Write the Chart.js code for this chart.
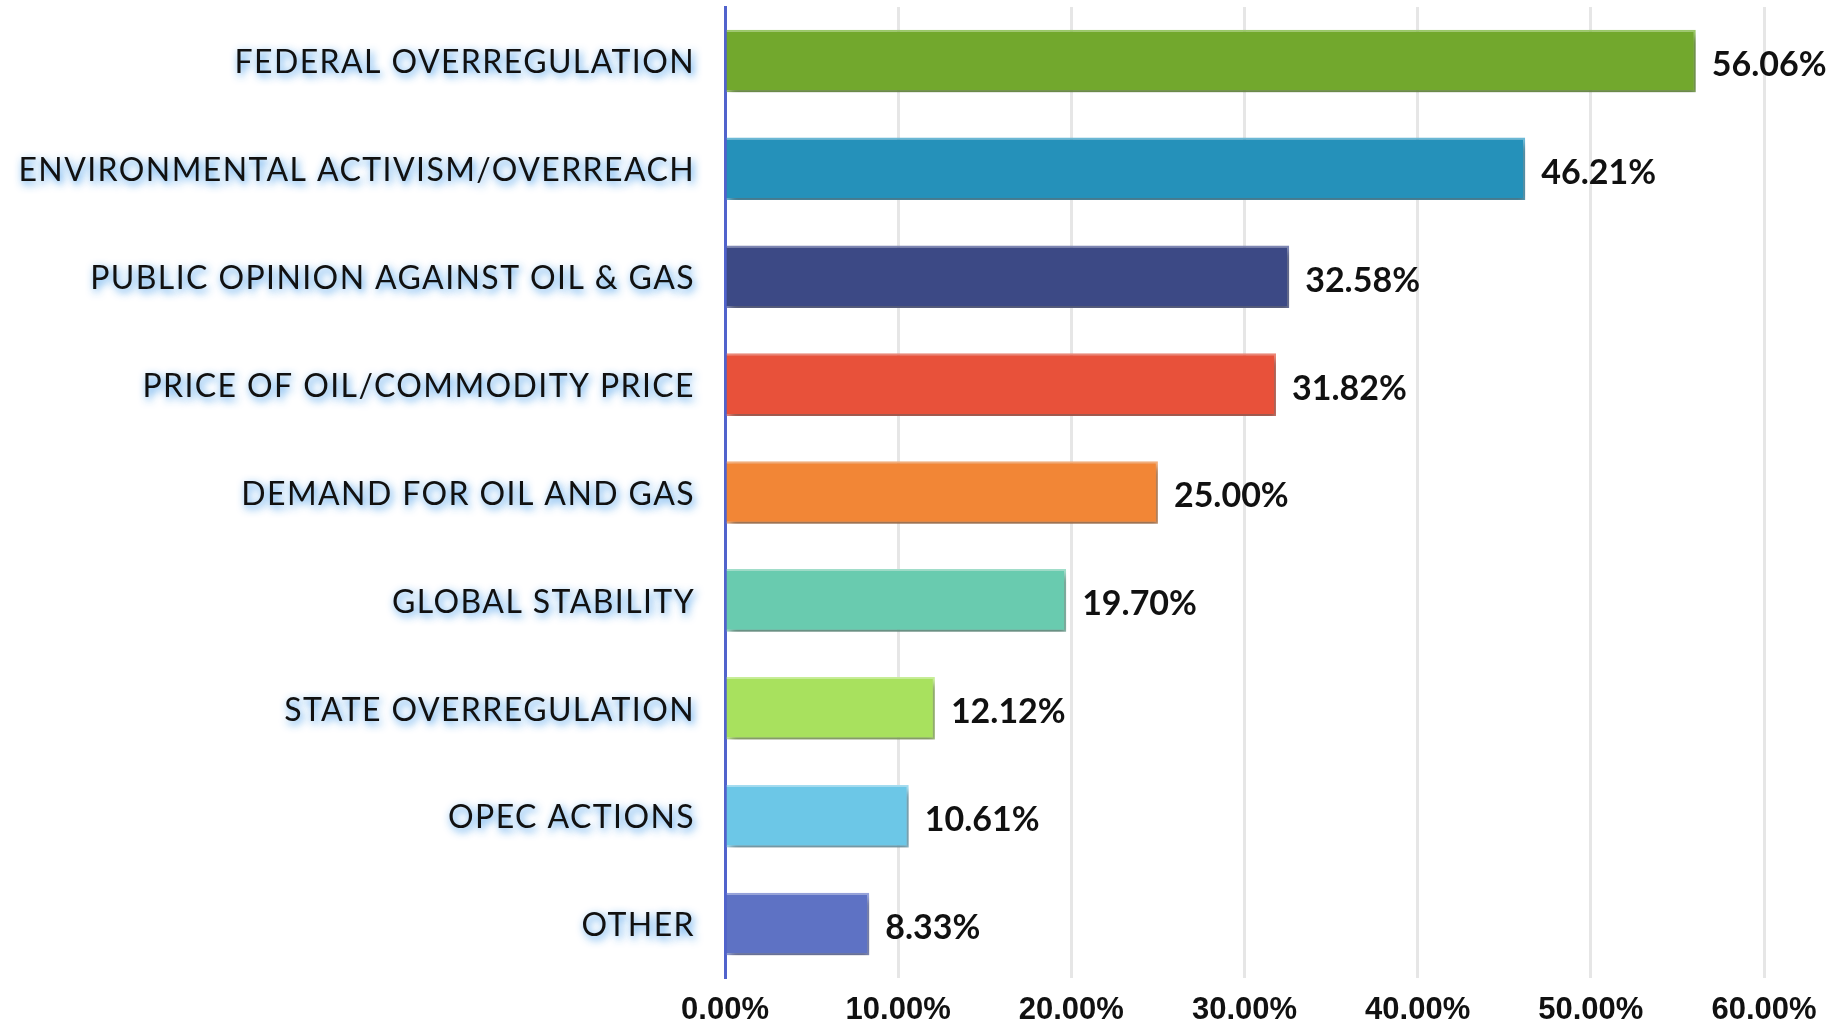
<!DOCTYPE html>
<html>
<head>
<meta charset="utf-8">
<script src="https://cdn.jsdelivr.net/npm/chart.js@4.4.1/dist/chart.umd.min.js"></script>
<style>
  html, body { margin: 0; padding: 0; background: #fff; }
  #wrap { width: 1833px; height: 1027px; position: relative; }
</style>
</head>
<body>
<div id="wrap"><canvas id="chart"></canvas></div>
<script>
// --- data ---
const categories = [
  'FEDERAL OVERREGULATION',
  'ENVIRONMENTAL ACTIVISM/OVERREACH',
  'PUBLIC OPINION AGAINST OIL & GAS',
  'PRICE OF OIL/COMMODITY PRICE',
  'DEMAND FOR OIL AND GAS',
  'GLOBAL STABILITY',
  'STATE OVERREGULATION',
  'OPEC ACTIONS',
  'OTHER'
];
const shares = [56.06, 46.21, 32.58, 31.82, 25.00, 19.70, 12.12, 10.61, 8.33];
const barColors = ['#72a82d', '#2591ba', '#3c4985', '#e8513a', '#f28636', '#69cbaf', '#a8e15e', '#6cc7e7', '#5e72c4'];
const edgeColors = ['#9cc96a', '#6bbad8', '#7f88b5', '#f08a7a', '#f7b27e', '#a3e0cc', '#c9ef99', '#a6def2', '#97a3dc'];
const xTicks = [0, 10, 20, 30, 40, 50, 60];

// glow on category labels + drop shadow under bars + value labels
const effects = {
  id: 'effects',
  beforeDraw(chart) {
    const s = chart.scales.y;
    if (!s._glow) {
      const orig = s.drawLabels.bind(s);
      s.drawLabels = function (area) {
        const ctx = this.ctx;
        ctx.save();
        ctx.translate(0, 2);
        ctx.letterSpacing = '1.4px';
        ctx.shadowColor = 'rgba(30,135,230,0.9)';
        ctx.shadowBlur = 8;
        ctx.shadowOffsetX = 2;
        ctx.shadowOffsetY = 3;
        orig(area);
        ctx.restore();
      };
      s._glow = true;
    }
  },
  beforeDatasetsDraw(chart) {
    const ctx = chart.ctx;
    ctx.save();
    ctx.shadowColor = 'rgba(0,0,0,0.4)';
    ctx.shadowBlur = 7;
    ctx.shadowOffsetX = 3;
    ctx.shadowOffsetY = 5;
  },
  afterDatasetsDraw(chart) {
    const ctx = chart.ctx;
    ctx.restore();
    ctx.save();
    ctx.font = 'bold 34px Lato, "Open Sans", sans-serif';
    ctx.fillStyle = '#111';
    ctx.textBaseline = 'middle';
    ctx.textAlign = 'left';
    chart.getDatasetMeta(0).data.forEach((bar, i) => {
      ctx.fillText(shares[i].toFixed(2) + '%', bar.x + 16, bar.y + 4);
    });
    ctx.restore();
  }
};

new Chart(document.getElementById('chart'), {
  type: 'bar',
  data: {
    labels: categories,
    datasets: [{
      data: shares,
      backgroundColor: barColors,
      borderColor: edgeColors,
      borderWidth: 2,
      categoryPercentage: 1,
      barPercentage: 0.58
    }]
  },
  options: {
    indexAxis: 'y',
    responsive: true,
    maintainAspectRatio: false,
    animation: false,
    layout: { padding: { top: 7, right: 69, left: 0, bottom: 0 } },
    plugins: { legend: { display: false }, tooltip: { enabled: false } },
    scales: {
      x: {
        min: 0, max: 60,
        afterBuildTicks: (scale) => { scale.ticks = xTicks.map(v => ({ value: v })); },
        afterFit: (scale) => { scale.height = 49; },
        grid: {
          color: (c) => c.index === 0 ? 'rgba(0,0,0,0)' : '#e6e6e6',
          lineWidth: 3,
          drawTicks: false
        },
        border: { display: false },
        ticks: {
          padding: 14,
          color: '#111',
          font: { family: '"Liberation Sans", Arial, sans-serif', size: 31, weight: 'bold' },
          callback: (v) => Number(v).toFixed(2) + '%'
        }
      },
      y: {
        afterFit: (scale) => {
          scale.width = 725;
          scale.paddingTop = 0;
          scale.paddingBottom = 0;
        },
        grid: { display: false, drawTicks: false },
        border: { display: true, color: '#5163cc', width: 3 },
        ticks: {
          padding: 30,
          color: '#111',
          font: { family: 'Lato, "Open Sans", sans-serif', size: 32 }
        }
      }
    }
  },
  plugins: [effects]
});
</script>
</body>
</html>
